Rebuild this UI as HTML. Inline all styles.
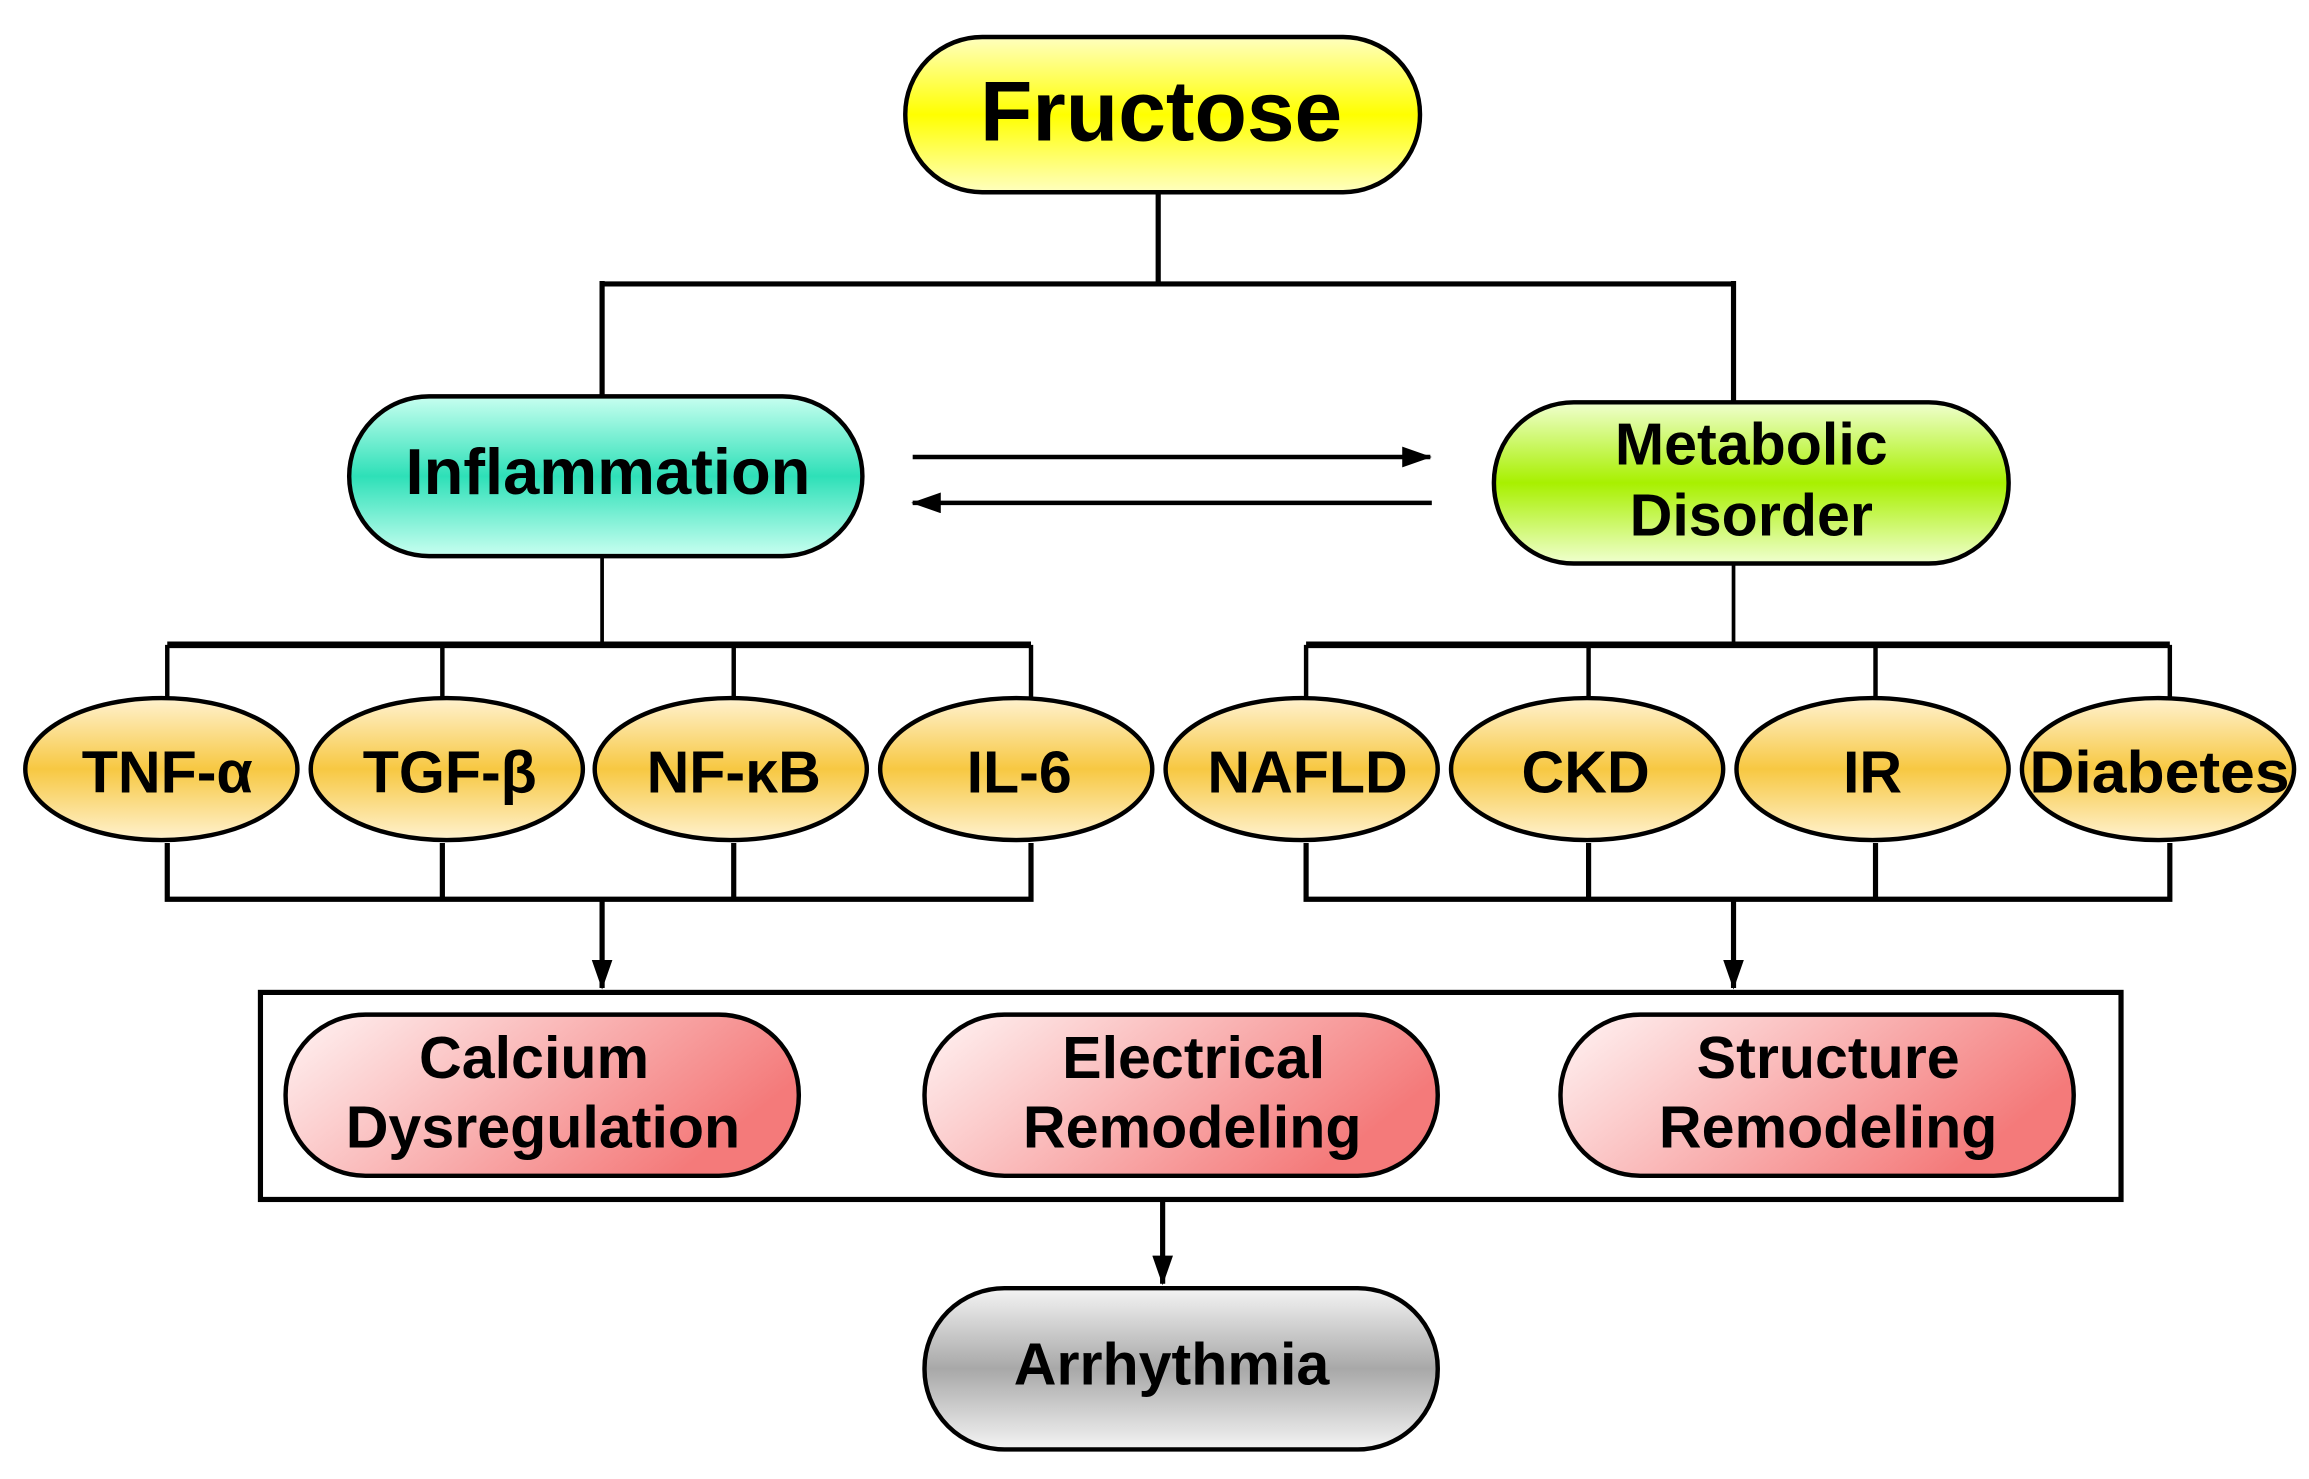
<!DOCTYPE html>
<html><head><meta charset="utf-8"><style>html,body{margin:0;padding:0;background:#fff}svg{display:block}</style></head><body>
<svg width="2309" height="1479" viewBox="0 0 1561 1000" xmlns="http://www.w3.org/2000/svg" font-family="Liberation Sans, Arial, sans-serif" font-weight="bold">
<defs>
<linearGradient id="gy" x1="0" y1="0" x2="0" y2="1"><stop offset="0" stop-color="#ffffc0"/><stop offset="0.5" stop-color="#ffff00"/><stop offset="1" stop-color="#ffffc0"/></linearGradient>
<linearGradient id="gt" x1="0" y1="0" x2="0" y2="1"><stop offset="0" stop-color="#c8fff0"/><stop offset="0.5" stop-color="#2ee0b8"/><stop offset="1" stop-color="#c8fff0"/></linearGradient>
<linearGradient id="gg" x1="0" y1="0" x2="0" y2="1"><stop offset="0" stop-color="#f0ffd0"/><stop offset="0.5" stop-color="#a8f000"/><stop offset="1" stop-color="#f0ffd0"/></linearGradient>
<linearGradient id="go" x1="0" y1="0" x2="0" y2="1"><stop offset="0" stop-color="#fff2d0"/><stop offset="0.5" stop-color="#f7c842"/><stop offset="1" stop-color="#fff2d0"/></linearGradient>
<linearGradient id="gp" x1="0" y1="0" x2="1" y2="0.4"><stop offset="0" stop-color="#fff4f4"/><stop offset="1" stop-color="#f47a7a"/></linearGradient>
<linearGradient id="gs" x1="0" y1="0" x2="0" y2="1"><stop offset="0" stop-color="#f4f4f4"/><stop offset="0.5" stop-color="#a8a8a8"/><stop offset="1" stop-color="#f4f4f4"/></linearGradient>
<marker id="ahs" markerWidth="20" markerHeight="14" refX="19" refY="7" orient="auto" markerUnits="userSpaceOnUse"><path d="M0,0 L20,7 L0,14 z" fill="#000"/></marker>
</defs>
<g stroke="#000" fill="none">
<path d="M783,130 V192 M407,192 H1172 M407,190 V268 M1172,190 V272" stroke-width="3.5"/>
<path d="M407,376 V436 M1172,381 V436" stroke-width="2.5"/>
<path d="M113,436 H697 M883,436 H1467" stroke-width="4.5"/>
<path d="M113,436 V472 M299,436 V472 M496,436 V472 M697,436 V472 M883,436 V472 M1074,436 V472 M1268,436 V472 M1467,436 V472" stroke-width="3"/>
<path d="M113,570 V608 H697 V570 M299,570 V608 M496,570 V608 M883,570 V608 H1467 V570 M1074,570 V608 M1268,570 V608" stroke-width="3.5"/>
<line x1="407" y1="608" x2="407" y2="668" stroke-width="3.5" marker-end="url(#ahs)"/>
<line x1="1172" y1="608" x2="1172" y2="668" stroke-width="3.5" marker-end="url(#ahs)"/>
<line x1="786" y1="811" x2="786" y2="868" stroke-width="3.5" marker-end="url(#ahs)"/>
<line x1="617" y1="309" x2="967" y2="309" stroke-width="3" marker-end="url(#ahs)"/>
<line x1="968" y1="340" x2="617" y2="340" stroke-width="3" marker-end="url(#ahs)"/>
<rect x="176" y="671" width="1258" height="140" stroke-width="3.5"/>
</g>
<g stroke="#000" stroke-width="3">
<rect x="612" y="25" width="348" height="105" rx="52" fill="url(#gy)"/>
<rect x="236" y="268" width="347" height="108" rx="54" fill="url(#gt)"/>
<rect x="1010" y="272" width="348" height="109" rx="54" fill="url(#gg)"/>
<g fill="url(#go)">
<ellipse cx="109" cy="520" rx="92" ry="48"/><ellipse cx="302" cy="520" rx="92" ry="48"/>
<ellipse cx="494" cy="520" rx="92" ry="48"/><ellipse cx="687" cy="520" rx="92" ry="48"/>
<ellipse cx="880" cy="520" rx="92" ry="48"/><ellipse cx="1073" cy="520" rx="92" ry="48"/>
<ellipse cx="1266" cy="520" rx="92" ry="48"/><ellipse cx="1459" cy="520" rx="92" ry="48"/>
</g>
<rect x="193" y="686" width="347" height="109" rx="54" fill="url(#gp)"/>
<rect x="625" y="686" width="347" height="109" rx="54" fill="url(#gp)"/>
<rect x="1055" y="686" width="347" height="109" rx="54" fill="url(#gp)"/>
<rect x="625" y="871" width="347" height="109" rx="54" fill="url(#gs)"/>
</g>
<g text-anchor="middle" fill="#000">
<text x="785" y="95" font-size="58">Fructose</text>
<text x="411" y="334" font-size="44">Inflammation</text>
<text x="1184" y="314" font-size="40">Metabolic</text>
<text x="1184" y="362" font-size="40">Disorder</text>
<g font-size="40">
<text x="113" y="536">TNF-α</text><text x="304" y="536">TGF-β</text><text x="496" y="536">NF-κB</text><text x="689" y="536">IL-6</text>
<text x="884" y="536">NAFLD</text><text x="1072" y="536">CKD</text><text x="1266" y="536">IR</text><text x="1460" y="536" textLength="176" lengthAdjust="spacingAndGlyphs">Diabetes</text>
</g>
<g font-size="40">
<text x="361" y="729">Calcium</text><text x="367" y="776">Dysregulation</text>
<text x="807" y="729">Electrical</text><text x="806" y="776">Remodeling</text>
<text x="1236" y="729">Structure</text><text x="1236" y="776">Remodeling</text>
</g>
<text x="792" y="936" font-size="40">Arrhythmia</text>
</g>
</svg>
</body></html>
